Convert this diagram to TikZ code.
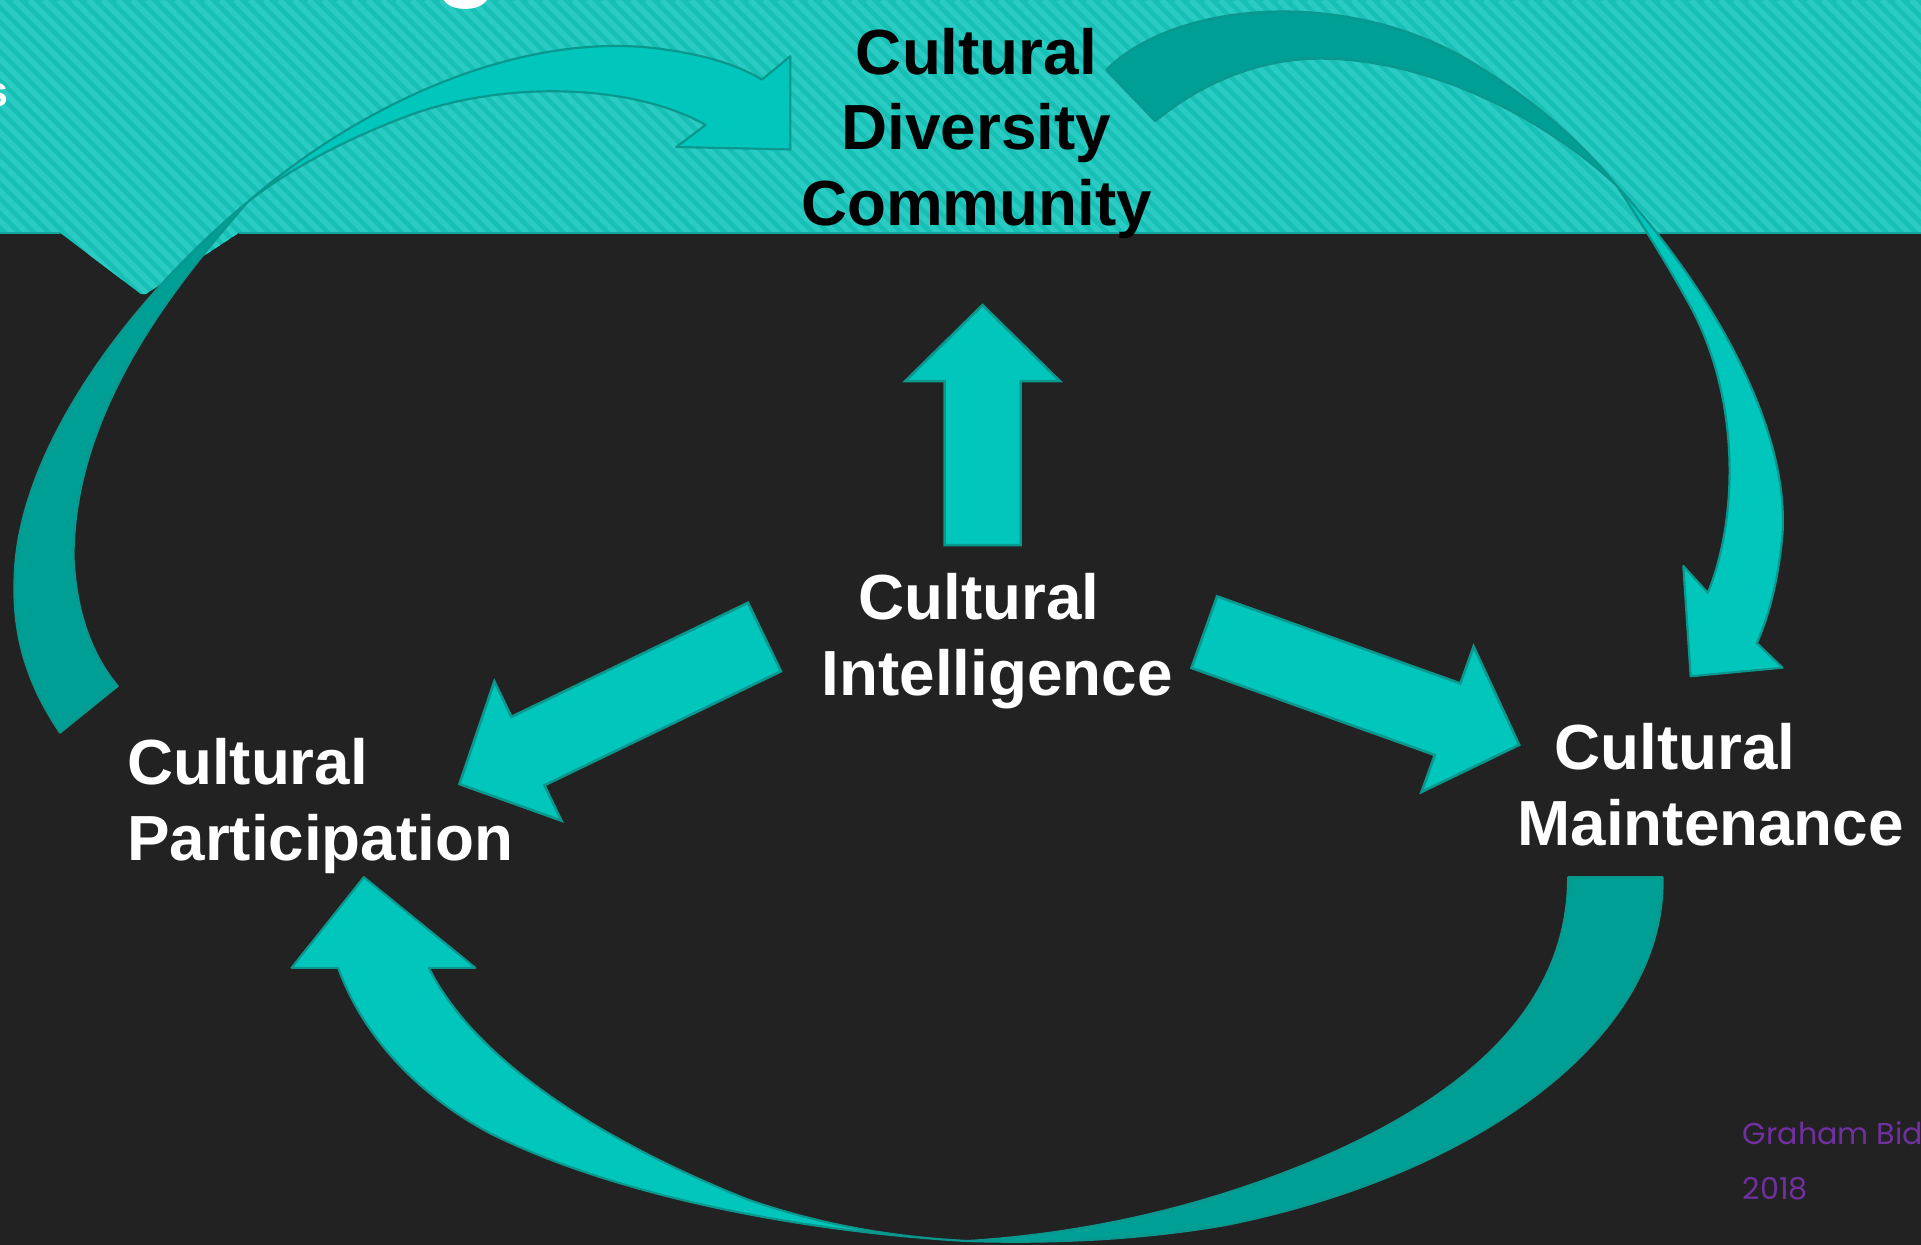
\documentclass[tikz,border=0pt]{standalone}
\usepackage{fontspec}
\setmainfont{Liberation Sans}
\newfontfamily\authorfont{Poppins}
\usetikzlibrary{calc}
\definecolor{bgdark}{HTML}{222222}
\definecolor{bandbase}{HTML}{17BFB5}
\definecolor{bandstripe}{HTML}{2ACBC2}
\definecolor{arrlight}{HTML}{00C6BC}
\definecolor{arrdark}{HTML}{009F95}
\definecolor{arrborder}{HTML}{0A978E}
\definecolor{authorcol}{HTML}{7030A0}
\newcommand\blockarrow[2]{%
  \coordinate (bah) at ($(#2)!0.62cm!(#1)$);
  \filldraw[straightarrow] ($(#1)!0.31cm!90:(#2)$) -- ($(bah)!0.31cm!-90:(#1)$) -- ($(bah)!0.63cm!-90:(#1)$) -- (#2) -- ($(bah)!0.63cm!90:(#1)$) -- ($(bah)!0.31cm!90:(#1)$) -- ($(#1)!0.31cm!-90:(#2)$) -- cycle;}
\begin{document}
\begin{tikzpicture}[x=0.01cm,y=-0.01cm,
  lightarc/.style={fill=arrlight, draw=arrborder, line width=0.5pt, line join=round},
  darkarc/.style={fill=arrdark, draw=arrborder, line width=0.5pt, line join=round},
  straightarrow/.style={fill=arrlight, draw=arrborder, line width=0.6pt, line join=miter},
  labelbase/.style={inner sep=0pt, font=\bfseries\fontsize{14.8}{17.6}\selectfont},
  whitelabel/.style={labelbase, text=white},
  blacklabel/.style={labelbase, text=black},
  authorlabel/.style={inner sep=0pt, text=authorcol, font=\authorfont\fontsize{7}{12.8}\selectfont},
  titlefrag/.style={inner sep=0pt, text=white, font=\bfseries}]
\useasboundingbox (0,0) rectangle (1568,1016);
\clip (0,0) rectangle (1568,1016);
\fill[bgdark] (0,0) rectangle (1568,1016);
% top band
\fill[bandbase] (0,0) -- (1568,0) -- (1568,190) -- (195,190) -- (119,240) -- (115,240) -- (49,190) -- (0,190) -- cycle;
\begin{scope}
  \clip (0,0) -- (1568,0) -- (1568,190) -- (195,190) -- (119,240) -- (115,240) -- (49,190) -- (0,190) -- cycle;
  \foreach \k in {-300,-288,...,1580} \draw[bandstripe, line width=1.3pt] (\k,0) -- ++(300,300);
\end{scope}
\draw[arrborder!60!bandbase, line width=0.4pt] (0,190) -- (49,190);
\draw[arrborder!60!bandbase, line width=0.4pt] (195,190) -- (1568,190);
% title fragments
\node[titlefrag, anchor=base east, font=\bfseries\fontsize{10}{12}\selectfont] (titleS) at (8,87) {s};
\node[titlefrag, anchor=base, font=\bfseries\fontsize{24}{28}\selectfont] (titleG) at (381,-10) {g};
% arc A (left, up to Diversity)
\coordinate (xA) at (202,165);
\filldraw[darkarc] (49,598) .. controls (20,555) and (10,515) .. (12,470)
  .. controls (15,370) and (100,250) .. (xA)
  .. controls (150,225) and (60,330) .. (60,455)
  .. controls (62,500) and (75,535) .. (96,560) -- cycle;
\filldraw[lightarc] (xA) .. controls (300,80) and (430,25) .. (540,40)
  .. controls (575,45) and (600,52) .. (622,65)
  -- (645,46) -- (645,122) -- (552,120) -- (576,102)
  .. controls (520,70) and (420,65) .. (340,92)
  .. controls (290,110) and (240,135) .. (xA) -- cycle;
% arc B (top right, down to Maintenance)
\coordinate (xB) at (1320,152);
\filldraw[darkarc] (903,57) .. controls (960,0) and (1100,-10) .. (1200,50)
  .. controls (1250,80) and (1290,115) .. (xB)
  .. controls (1260,95) and (1160,45) .. (1070,48)
  .. controls (1020,50) and (975,72) .. (943,99) -- cycle;
\filldraw[lightarc] (xB) .. controls (1400,240) and (1460,350) .. (1455,435)
  .. controls (1452,470) and (1445,500) .. (1434,525)
  -- (1455,545) -- (1380,552) -- (1374,462) -- (1394,484)
  .. controls (1420,420) and (1420,320) .. (1377,245)
  .. controls (1362,218) and (1345,190) .. (xB) -- cycle;
% arc C (bottom, back to Participation)
\coordinate (xC) at (790,1013);
\filldraw[darkarc] (1280,716) -- (1357,716)
  .. controls (1360,850) and (1200,960) .. (1000,1000)
  .. controls (930,1012) and (860,1015) .. (xC)
  .. controls (900,1006) and (1000,980) .. (1090,940)
  .. controls (1200,890) and (1280,820) .. (1280,716) -- cycle;
\filldraw[lightarc] (xC) .. controls (650,1005) and (500,975) .. (400,925)
  .. controls (340,893) and (296,845) .. (276,790)
  -- (238,790) -- (297,716) -- (388,790) -- (350,790)
  .. controls (390,870) and (500,935) .. (610,979)
  .. controls (670,1000) and (730,1010) .. (xC) -- cycle;
% straight arrows from the centre
\coordinate (upTail) at (802,445);   \coordinate (upTip) at (802,249);
\coordinate (leftTail) at (624,520); \coordinate (leftTip) at (375,640);
\coordinate (rightTail) at (983,516); \coordinate (rightTip) at (1240,608);
\blockarrow{upTail}{upTip}
\blockarrow{leftTail}{leftTip}
\blockarrow{rightTail}{rightTip}
% labels
\node[blacklabel, anchor=north, align=center] (cdc) at (797,22) {Cultural\\Diversity\\Community};
\node[whitelabel, anchor=north west, align=left] (ci) at (670,467) {\hspace*{0.30cm}Cultural\\Intelligence};
\node[whitelabel, anchor=north west, align=left] (cm) at (1238,590) {\hspace*{0.30cm}Cultural\\Maintenance};
\node[whitelabel, anchor=north west, align=left] (cp) at (103,602) {Cultural\\Participation};
\node[authorlabel, anchor=base west] (auth1) at (1422,934) {Graham Bidd};
\node[authorlabel, anchor=base west] (auth2) at (1422,979) {2018};
\end{tikzpicture}
\end{document}
